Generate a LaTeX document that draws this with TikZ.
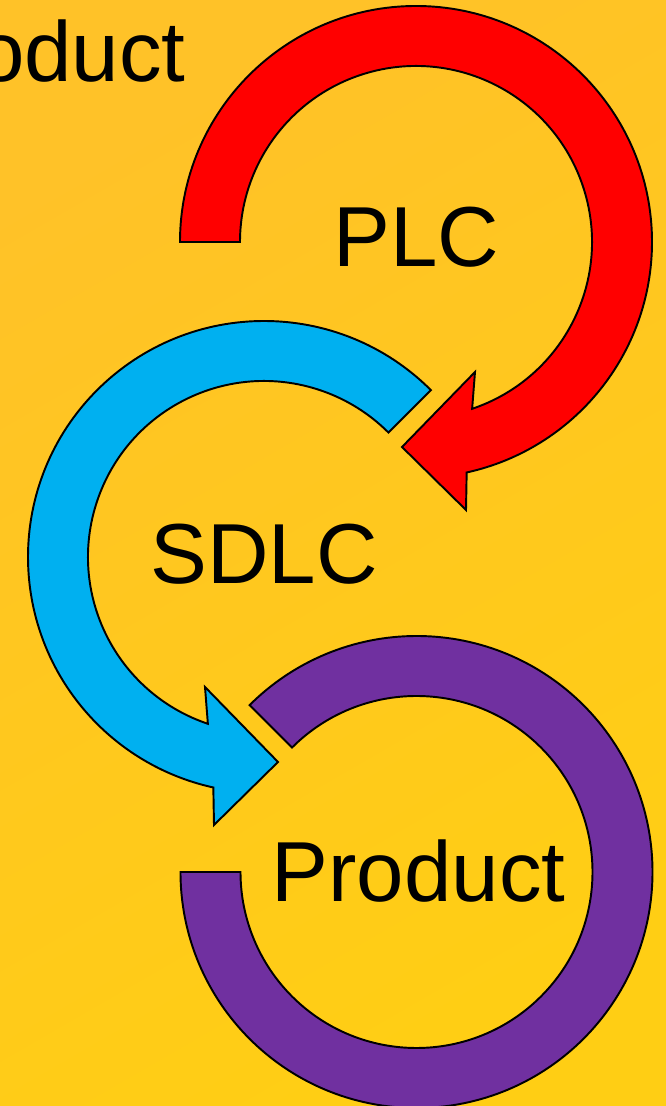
\documentclass[tikz,border=0pt]{standalone}
\usepackage{fontspec}
\setmainfont{Liberation Sans}
\definecolor{bgA}{RGB}{255,194,40}
\definecolor{bgB}{RGB}{255,206,20}
\definecolor{plcred}{RGB}{255,0,0}
\definecolor{sdlcblue}{RGB}{0,176,240}
\definecolor{prodpurple}{RGB}{112,48,160}
\tikzset{
  band/.style={draw=black, line width=1.1pt, line join=miter},
  lbl/.style={font=\fontsize{48.5}{58}\selectfont, inner sep=0pt, anchor=base, text=black}
}
\begin{document}
\begin{tikzpicture}[x=0.02cm, y=0.02cm]
\useasboundingbox (0,0) rectangle (666,1106);
\clip (0,0) rectangle (666,1106);
\shade[left color=bgA, right color=bgB, shading angle=30] (0,0) rectangle (666,1106);
% Red (PLC) arrow
\begin{scope}[shift={(416,864)}]
\draw[band, fill=plcred] (180:236) arc[start angle=180, end angle=-77.6, radius=236]
  -- (50,-268) -- (-14,-205) -- (59,-130) -- (-71.4:176)
  arc[start angle=-71.4, end angle=180, radius=176] -- cycle;
\end{scope}
% Blue (SDLC) arrow
\begin{scope}[shift={(264,549)}]
\draw[band, fill=sdlcblue] (45:236) arc[start angle=45, end angle=257.6, radius=236]
  -- (-50,-268) -- (14,-205) -- (-59,-130) -- (251.4:176)
  arc[start angle=251.4, end angle=45, radius=176] -- cycle;
\end{scope}
% Purple (Product) ring
\begin{scope}[shift={(416.5,234)}]
\draw[band, fill=prodpurple] (180:236) arc[start angle=180, end angle=495, radius=236]
  -- (135:176) arc[start angle=135, end angle=-180, radius=176] -- cycle;
\end{scope}
% Labels
\node[lbl] (plc) at (416.5,839) {PLC};
\node[lbl] (sdlc) at (264,522) {SDLC};
\node[lbl] (prod) at (418.5,204) {Product};
\node[lbl, anchor=base east] (title) at (186,1024) {Product};
\end{tikzpicture}
\end{document}
